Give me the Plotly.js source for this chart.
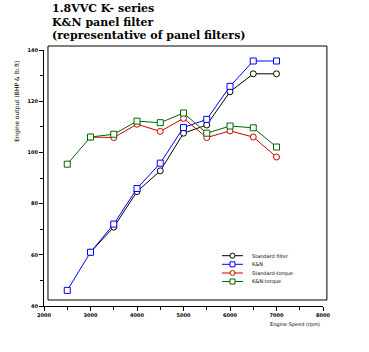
<!DOCTYPE html>
<html>
<head>
<meta charset="utf-8">
<script src="https://cdn.plot.ly/plotly-3.0.1.min.js"></script>
<style>
html,body{margin:0;padding:0;background:#fff;}
#chart{width:369px;height:352px;}
</style>
</head>
<body>
<div id="chart"></div>
<script>
// ---- data ----
const rpm = [2500, 3000, 3500, 4000, 4500, 5000, 5500, 6000, 6500, 7000];
const rpmFrom3000 = [3000, 3500, 4000, 4500, 5000, 5500, 6000, 6500, 7000];

const standardFilter = [61.0, 70.8, 84.7, 92.8, 107.5, 110.7, 123.7, 130.7, 130.7];
const knFilter = [46.1, 61.0, 72.0, 85.9, 95.8, 109.7, 112.9, 125.8, 135.7, 135.7];
const standardTorque = [106.0, 105.8, 111.0, 108.2, 113.3, 105.8, 108.4, 106.0, 98.2];
const knTorque = [95.4, 106.0, 107.1, 112.2, 111.6, 115.4, 107.5, 110.3, 109.6, 102.1];

const seriesNames = ["Standard filter", "K&N", "Standard-torque", "K&N-torque"];
const titleLines = ["1.8VVC K- series", "K&N panel filter", "(representative of panel filters)"];
const xTitle = "Engine Speed (rpm)";
const yTitle = "Engine output (BHP & lb.ft)";

const xTicks = [2000, 3000, 4000, 5000, 6000, 7000, 8000];
const yTicks = [40, 60, 80, 100, 120, 140];

// ---- styles ----
const colors = ['#000000', '#0000ff', '#cc0000', '#006600'];
const symbols = ['circle', 'square', 'circle', 'square'];

function tr(x, y, i) {
  return {
    x: x, y: y, name: seriesNames[i], type: 'scatter', mode: 'lines+markers',
    line: {color: colors[i], width: 1},
    marker: {symbol: symbols[i], size: 6, color: 'white', line: {color: colors[i], width: 1}},
    cliponaxis: false, showlegend: false
  };
}

const data = [
  tr(rpmFrom3000, standardFilter, 0),
  tr(rpm, knFilter, 1),
  tr(rpmFrom3000, standardTorque, 2),
  tr(rpm, knTorque, 3)
];

const tickFont = {family: 'DejaVu Sans', size: 5, color: '#000', weight: 'bold'};

// manual legend (layout positions in paper coords)
const legRows = [0.1965, 0.1629, 0.1289, 0.0957];
const legX0 = 0.638, legX1 = 0.713, legMX = 0.6756, legTX = 0.738;

const shapes = [
  {type: 'rect', xref: 'paper', yref: 'paper', x0: 0.0143, x1: 1.014, y0: 0.0234, y1: 1.0156,
   line: {color: '#000', width: 1}, fillcolor: 'rgba(0,0,0,0)', layer: 'below'}
];
const annotations = [];
seriesNames.forEach(function (nm, i) {
  const yy = legRows[i];
  shapes.push({type: 'line', xref: 'paper', yref: 'paper', x0: legX0, x1: legX1, y0: yy, y1: yy,
    line: {color: colors[i], width: 1}});
  shapes.push({type: symbols[i] === 'circle' ? 'circle' : 'rect', xref: 'paper', yref: 'paper',
    xsizemode: 'pixel', ysizemode: 'pixel', xanchor: legMX, yanchor: yy,
    x0: -2.5, x1: 2.5, y0: -2.5, y1: 2.5,
    line: {color: colors[i], width: 1}, fillcolor: '#fff'});
  annotations.push({text: nm, xref: 'paper', yref: 'paper', x: legTX, y: yy,
    xanchor: 'left', yanchor: 'middle', showarrow: false,
    font: {family: 'DejaVu Sans', size: 5, color: '#000'}});
});

const titleY = [1.164, 1.109, 1.056];
titleLines.forEach(function (t, i) {
  annotations.push({text: '<b>' + t + '</b>', xref: 'paper', yref: 'paper', x: 0.022, y: titleY[i],
    xanchor: 'left', yanchor: 'middle', showarrow: false,
    font: {family: 'DejaVu Serif', size: 11, color: '#000'}});
});
annotations.push({text: xTitle, xref: 'paper', yref: 'paper', x: 0.90, y: -0.074,
  xanchor: 'center', yanchor: 'middle', showarrow: false,
  font: {family: 'DejaVu Sans', size: 5, color: '#000'}});
annotations.push({text: yTitle, xref: 'paper', yref: 'paper', x: -0.095, y: 0.80, textangle: -90,
  xanchor: 'center', yanchor: 'middle', showarrow: false,
  font: {family: 'DejaVu Sans', size: 6, color: '#000'}});

const layout = {
  width: 369, height: 352,
  margin: {l: 44, r: 46, t: 50, b: 46},
  paper_bgcolor: '#fff', plot_bgcolor: '#fff',
  showlegend: false,
  xaxis: {
    range: [2000, 8000], tickvals: xTicks, ticktext: xTicks.map(String),
    showgrid: false, zeroline: false, showline: true, linecolor: '#000', linewidth: 1,
    ticks: 'outside', ticklen: 4, tickcolor: '#000', tickfont: tickFont,
    minor: {dtick: 500, tick0: 2000, ticks: 'outside', ticklen: 3, tickcolor: '#000'}
  },
  yaxis: {
    range: [40, 140], tickvals: yTicks, ticktext: yTicks.map(String),
    showgrid: false, zeroline: false, showline: true, linecolor: '#000', linewidth: 1,
    ticks: 'outside', ticklen: 4, tickcolor: '#000', tickfont: tickFont,
    minor: {dtick: 10, tick0: 40, ticks: 'outside', ticklen: 3, tickcolor: '#000'}
  },
  shapes: shapes,
  annotations: annotations
};

Plotly.newPlot('chart', data, layout, {staticPlot: true, displayModeBar: false});
</script>
</body>
</html>
